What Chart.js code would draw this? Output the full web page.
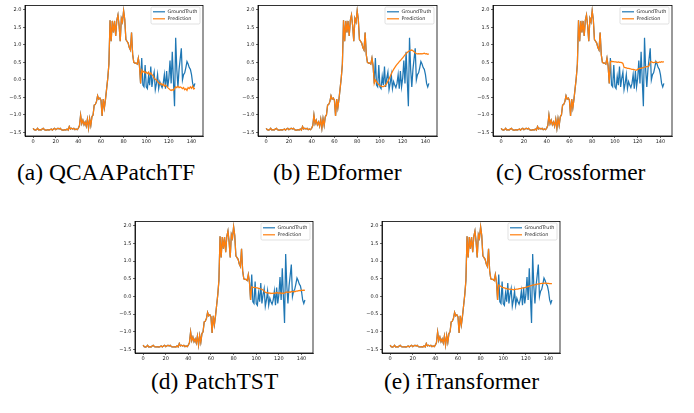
<!DOCTYPE html>
<html>
<head>
<meta charset="utf-8">
<script src="https://cdn.jsdelivr.net/npm/chart.js@4.4.0/dist/chart.umd.min.js"></script>
<style>
  body { margin: 0; background: #fff; width: 694px; height: 413px; position: relative; overflow: hidden; }
  canvas { position: absolute; }
  .cap { position: absolute; font-family: "Liberation Serif", "Times New Roman", serif; font-size: 23.5px; line-height: 1; white-space: nowrap; color: #000; }
</style>
</head>
<body>
<canvas id="c0"></canvas>
<canvas id="c1"></canvas>
<canvas id="c2"></canvas>
<canvas id="c3"></canvas>
<canvas id="c4"></canvas>
<div class="cap" style="left:17px;top:161px">(a) QCAAPatchTF</div>
<div class="cap" style="left:273px;top:161px">(b) EDformer</div>
<div class="cap" style="left:496px;top:161px">(c) Crossformer</div>
<div class="cap" style="left:151px;top:370px">(d) PatchTST</div>
<div class="cap" style="left:384px;top:370px">(e) iTransformer</div>
<script>
// --- data ---
const xTicks = [0, 20, 40, 60, 80, 100, 120, 140];
const yTicks = [-1.5, -1.0, -0.5, 0.0, 0.5, 1.0, 1.5, 2.0];
const inputLength = 96;

const groundTruth = [
  -1.38, -1.42, -1.43, -1.42, -1.38, -1.43, -1.42, -1.43, -1.40, -1.38,
  -1.42, -1.43, -1.43, -1.42, -1.43, -1.42, -1.40, -1.43, -1.40, -1.38,
  -1.42, -1.40, -1.38, -1.40, -1.38, -1.42, -1.43, -1.43, -1.42, -1.43,
  -1.40, -1.43, -1.33, -1.40, -1.38, -1.40, -1.38, -1.42, -1.40, -1.42,
  -1.38, -1.30, -1.00, -1.25, -1.15, -1.28, -1.20, -1.32, -1.12, -1.38,
  -1.10, -1.30, -1.05, -1.00, -0.72, -0.70, -0.62, -0.45, -0.55, -0.52,
  -0.58, -1.03, -0.55, -0.80, -0.55, -0.25, 0.05, 0.45, 1.70, 1.10,
  1.68, 1.35, 1.68, 1.25, 1.70, 1.85, 1.55, 1.10, 1.75, 1.65,
  1.97, 1.72, 1.15, 1.10, 1.05, 0.92, 0.85, 1.35, 0.72, 0.50,
  0.48, 0.48, 0.45, 0.62, 0.40, -0.10,
  0.62, -0.15, -0.20, 0.42, -0.20, -0.25, 0.10, -0.15, 0.38, -0.20,
  0.05, 0.22, -0.28, -0.10, 0.15, -0.25, -0.05, -0.15, -0.22, -0.10,
  0.15, -0.25, 0.25, -0.20, 0.05, 0.55, -0.10, 0.80, 0.00, -0.75,
  1.20, 0.30, -0.20, 0.30, 0.60, 0.90, 0.00, 0.15, 0.20, 0.35,
  0.52, 0.45, 0.35, 0.30, 0.15, -0.10, -0.20, -0.10
];

// forecasts for steps 96..143
const predQCAA = [
  0.28, 0.22, 0.25, 0.20, 0.22, 0.18, 0.22, 0.15, 0.20, 0.15,
  0.12, 0.05, 0.02, 0.00, -0.05, -0.08, -0.12, -0.10, -0.15, -0.12,
  -0.18, -0.15, -0.18, -0.22, -0.25, -0.28, -0.30, -0.28, -0.30, -0.25,
  -0.20, -0.22, -0.18, -0.22, -0.20, -0.22, -0.25, -0.22, -0.28, -0.25,
  -0.30, -0.22, -0.25, -0.20, -0.24, -0.18, -0.26, -0.24
];
const predEDformer = [
  0.00, -0.05, -0.10, -0.13, -0.16, -0.18, -0.19, -0.19, -0.18, -0.15,
  -0.10, -0.04, 0.02, 0.10, 0.17, 0.24, 0.30, 0.35, 0.40, 0.44,
  0.48, 0.52, 0.55, 0.59, 0.63, 0.67, 0.71, 0.75, 0.78, 0.81,
  0.83, 0.84, 0.85, 0.83, 0.80, 0.77, 0.75, 0.74, 0.75, 0.74,
  0.75, 0.74, 0.75, 0.76, 0.74, 0.75, 0.73, 0.74
];
const predCrossformer = [
  0.52, 0.53, 0.52, 0.52, 0.51, 0.51, 0.50, 0.51, 0.50, 0.50,
  0.49, 0.47, 0.36, 0.35, 0.34, 0.33, 0.33, 0.32, 0.31, 0.30,
  0.30, 0.29, 0.28, 0.28, 0.30, 0.32, 0.33, 0.33, 0.34, 0.35,
  0.36, 0.37, 0.38, 0.38, 0.40, 0.50, 0.52, 0.50, 0.49, 0.50,
  0.51, 0.50, 0.49, 0.51, 0.50, 0.52, 0.51, 0.52
];
const predPatchTST = [
  0.27, 0.26, 0.25, 0.26, 0.24, 0.24, 0.23, 0.22, 0.21, 0.20,
  0.18, 0.15, 0.12, 0.10, 0.11, 0.09, 0.10, 0.08, 0.09, 0.08,
  0.10, 0.09, 0.11, 0.10, 0.09, 0.11, 0.08, 0.10, 0.08, 0.10,
  0.12, 0.13, 0.11, 0.13, 0.12, 0.14, 0.13, 0.14, 0.13, 0.15,
  0.15, 0.16, 0.17, 0.16, 0.18, 0.17, 0.18, 0.17
];
const predITransformer = [
  0.32, 0.30, 0.28, 0.26, 0.25, 0.24, 0.23, 0.22, 0.21, 0.21,
  0.20, 0.20, 0.20, 0.19, 0.20, 0.20, 0.21, 0.21, 0.22, 0.22,
  0.23, 0.24, 0.24, 0.25, 0.26, 0.27, 0.28, 0.29, 0.30, 0.31,
  0.32, 0.33, 0.33, 0.34, 0.35, 0.35, 0.36, 0.36, 0.37, 0.37,
  0.37, 0.38, 0.37, 0.37, 0.37, 0.36, 0.36, 0.36
];

// plot areas in page pixels: [left, top, width, height]
const panels = [
  { id: 'c0', pred: predQCAA,         area: [25, 5, 178, 131] },
  { id: 'c1', pred: predEDformer,     area: [258, 5, 179, 131] },
  { id: 'c2', pred: predCrossformer,  area: [493, 5, 179, 131] },
  { id: 'c3', pred: predPatchTST,     area: [135, 221, 178, 132] },
  { id: 'c4', pred: predITransformer, area: [382, 221, 178, 132] },
];

const Y_AXIS_W = 30, X_AXIS_H = 14, PAD_T = 4, PAD_R = 4;
const tickFont = { family: 'DejaVu Sans', size: 5 };

const fmtY = v => (v < 0 ? '\u2212' : '') + Math.abs(v).toFixed(1);
const toPoints = arr => arr.map((v, i) => ({ x: i, y: v }));

// matplotlib-like frame + inside legend
const framePlugin = {
  id: 'frame',
  afterDraw(chart) {
    const { ctx, chartArea: a } = chart;
    ctx.save();
    ctx.strokeStyle = '#000';
    ctx.lineWidth = 0.8;
    ctx.strokeRect(a.left, a.top, a.right - a.left, a.bottom - a.top);

    const w = 49, h = 17;
    const lx = a.right - 3 - w, ly = a.top + 1.5;
    ctx.fillStyle = 'rgba(255,255,255,0.8)';
    ctx.strokeStyle = '#cccccc';
    ctx.lineWidth = 0.6;
    ctx.beginPath();
    ctx.roundRect(lx, ly, w, h, 1.5);
    ctx.fill();
    ctx.stroke();
    chart.data.datasets.forEach((ds, i) => {
      const y = ly + 4.8 + i * 7;
      ctx.strokeStyle = ds.borderColor;
      ctx.lineWidth = 1.2;
      ctx.beginPath();
      ctx.moveTo(lx + 2, y);
      ctx.lineTo(lx + 14, y);
      ctx.stroke();
      ctx.fillStyle = '#222';
      ctx.font = '4.8px "DejaVu Sans"';
      ctx.textBaseline = 'middle';
      ctx.fillText(ds.label, lx + 16.5, y + 0.3);
    });
    ctx.restore();
  }
};

panels.forEach(p => {
  const [left, top, w, h] = p.area;
  const canvas = document.getElementById(p.id);
  const cw = w + Y_AXIS_W + PAD_R, ch = h + PAD_T + X_AXIS_H;
  canvas.width = cw; canvas.height = ch;
  canvas.style.left = (left - Y_AXIS_W) + 'px';
  canvas.style.top = (top - PAD_T) + 'px';
  canvas.style.width = cw + 'px';
  canvas.style.height = ch + 'px';

  const prediction = groundTruth.slice(0, inputLength).concat(p.pred);

  new Chart(canvas, {
    type: 'line',
    data: {
      datasets: [
        { label: 'GroundTruth', data: toPoints(groundTruth), borderColor: '#1f77b4', order: 1 },
        { label: 'Prediction', data: toPoints(prediction), borderColor: '#ff7f0e', order: 0 },
      ]
    },
    options: {
      responsive: false,
      animation: false,
      devicePixelRatio: 1,
      layout: { padding: { top: PAD_T, right: PAD_R, left: 0, bottom: 0 } },
      elements: {
        line: { borderWidth: 1.25, tension: 0, fill: false },
        point: { radius: 0 }
      },
      plugins: { legend: { display: false }, tooltip: { enabled: false } },
      scales: {
        x: {
          type: 'linear',
          min: -7.15, max: 150.15,
          afterBuildTicks: s => { s.ticks = xTicks.map(v => ({ value: v })); },
          afterFit: s => { s.height = X_AXIS_H; },
          ticks: { font: tickFont, color: '#222', padding: 1, maxRotation: 0, autoSkip: false },
          grid: { display: true, drawOnChartArea: false, drawTicks: true, tickLength: 2, color: '#000', lineWidth: 0.6 },
          border: { display: true, color: '#000', width: 0.8 }
        },
        y: {
          min: -1.6, max: 2.12,
          afterBuildTicks: s => { s.ticks = yTicks.map(v => ({ value: v })); },
          afterFit: s => { s.width = Y_AXIS_W; },
          ticks: { font: tickFont, color: '#222', padding: 1.5, callback: fmtY, autoSkip: false },
          grid: { display: true, drawOnChartArea: false, drawTicks: true, tickLength: 2, color: '#000', lineWidth: 0.6 },
          border: { display: true, color: '#000', width: 0.8 }
        }
      }
    },
    plugins: [framePlugin]
  });
});
</script>
</body>
</html>
